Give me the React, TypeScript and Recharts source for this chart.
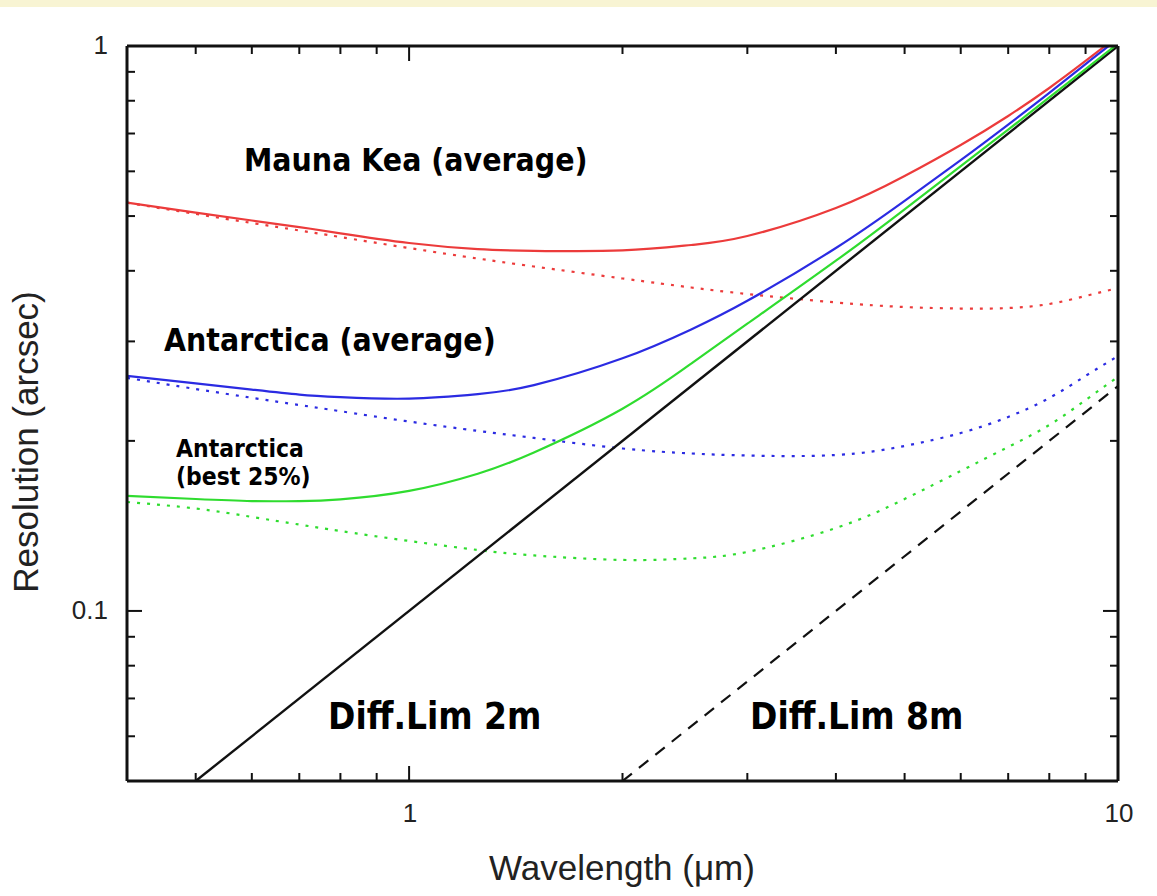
import React from 'react';
import { LineChart, Line, XAxis, YAxis } from 'recharts';

// Wavelength sample points (µm)
const wavelengths = [0.4, 0.5, 0.6, 0.7, 0.8, 1, 1.25, 1.5, 2, 2.5, 3, 4, 5, 6, 7, 8, 9, 10];

// Resolution (arcsec)
const maunaKeaTotal = [0.528, 0.507, 0.491, 0.478, 0.466, 0.448, 0.437, 0.434, 0.4346, 0.4444, 0.4609, 0.5166, 0.5886, 0.668, 0.7519, 0.8426, 0.9407, 1.0416];
const maunaKeaSeeing = [0.528, 0.5043, 0.4861, 0.4715, 0.459, 0.4389, 0.4205, 0.4071, 0.3877, 0.3737, 0.3639, 0.3516, 0.3451, 0.343, 0.3437, 0.3494, 0.361, 0.3729];
const antarcticaAvgTotal = [0.2606, 0.2528, 0.2465, 0.2415, 0.239, 0.2376, 0.242, 0.251, 0.28, 0.315, 0.354, 0.439, 0.532, 0.628, 0.726, 0.826, 0.929, 1.03];
const antarcticaAvgSeeing = [0.2585, 0.2471, 0.2384, 0.2315, 0.2257, 0.2164, 0.2083, 0.2024, 0.1939, 0.19, 0.1884, 0.1888, 0.1959, 0.2065, 0.2205, 0.2382, 0.2606, 0.2826];
const antarcticaBestTotal = [0.1598, 0.1578, 0.1565, 0.1565, 0.1576, 0.1631, 0.1749, 0.1908, 0.228, 0.274, 0.3225, 0.4168, 0.514, 0.613, 0.711, 0.811, 0.91, 1.01];
const antarcticaBestSeeing = [0.1559, 0.1518, 0.1467, 0.1422, 0.1385, 0.133, 0.1282, 0.1254, 0.1231, 0.1239, 0.1272, 0.1402, 0.1578, 0.1769, 0.1951, 0.2134, 0.2362, 0.2596];

// Diffraction limits (straight lines on log-log)
const diff2mX = [0.5, 10];
const diff2mY = [0.05, 1];
const diff8mX = [2, 10];
const diff8mY = [0.05, 0.25];

// Axis ticks
const xTicks = [0.5, 0.6, 0.7, 0.8, 0.9, 1, 2, 3, 4, 5, 6, 7, 8, 9, 10];
const xMajor = [1, 10];
const xLabels = [1, 10];
const yTicks = [0.06, 0.07, 0.08, 0.09, 0.1, 0.2, 0.3, 0.4, 0.5, 0.6, 0.7, 0.8, 0.9, 1];
const yMajor = [0.1, 1];
const yLabels = [0.1, 1];

const toSeries = (xs: number[], ys: number[]) => xs.map((x, i) => ({ x, y: ys[i] }));

const RED = '#ec3b3b';
const BLUE = '#2b2be2';
const GREEN = '#2fdc2f';
const AXIS = '#111';
const MAJOR_LEN = 15;
const MINOR_LEN = 8;
const TICK_FONT = '"Liberation Sans", Arial, sans-serif';

const BottomTick = (props: any) => {
  const { x, y, payload } = props;
  const v = payload.value;
  const len = xMajor.includes(v) ? MAJOR_LEN : MINOR_LEN;
  return (
    <g>
      <line x1={x} x2={x} y1={y} y2={y - len} stroke={AXIS} strokeWidth={2} />
      {xLabels.includes(v) && (
        <text x={x + 1} y={y + 41} textAnchor="middle" fontFamily={TICK_FONT} fontSize={26} fill="#222">
          {String(v)}
        </text>
      )}
    </g>
  );
};

const TopTick = (props: any) => {
  const { x, y, payload } = props;
  const len = xMajor.includes(payload.value) ? MAJOR_LEN : MINOR_LEN;
  return <line x1={x} x2={x} y1={y} y2={y + len} stroke={AXIS} strokeWidth={2} />;
};

const LeftTick = (props: any) => {
  const { x, y, payload } = props;
  const v = payload.value;
  const len = yMajor.includes(v) ? MAJOR_LEN : MINOR_LEN;
  return (
    <g>
      <line x1={x} x2={x + len} y1={y} y2={y} stroke={AXIS} strokeWidth={2} />
      {yLabels.includes(v) && (
        <text x={x - 19} y={y + 8} textAnchor="end" fontFamily={TICK_FONT} fontSize={26} fill="#222">
          {String(v)}
        </text>
      )}
    </g>
  );
};

const RightTick = (props: any) => {
  const { x, y, payload } = props;
  const len = yMajor.includes(payload.value) ? MAJOR_LEN : MINOR_LEN;
  return <line x1={x} x2={x - len} y1={y} y2={y} stroke={AXIS} strokeWidth={2} />;
};

const BOLD = '"DejaVu Sans", Verdana, sans-serif';

const Annot = ({ x, y, size, children }: { x: number; y: number; size: number; children: React.ReactNode }) => (
  <text
    transform={`translate(${x},${y}) scale(1,1.15)`}
    fontFamily={BOLD}
    fontWeight="bold"
    fontSize={size}
    fill="#000"
  >
    {children}
  </text>
);

export default function App() {
  const axisCommon = {
    type: 'number' as const,
    scale: 'log' as const,
    allowDataOverflow: true,
    tickSize: 0,
    tickMargin: 0,
    tickLine: false,
    interval: 0 as const,
    axisLine: { stroke: AXIS, strokeWidth: 3 },
  };
  const curve = 'natural' as const;
  return (
    <div style={{ position: 'absolute', left: 0, top: 0, width: 1157, height: 896, background: '#fff', overflow: 'hidden' }}>
      <div style={{ position: 'absolute', left: 0, top: 0, width: 1157, height: 7, background: '#f8f4d3' }} />
      <div style={{ position: 'absolute', left: 0, top: 0 }}>
        <LineChart width={1157} height={896} margin={{ top: 45, right: 38, bottom: 114, left: 126 }}>
          <XAxis {...axisCommon} dataKey="x" domain={[0.4, 10]} ticks={xTicks} height={1} tick={<BottomTick />} />
          <XAxis {...axisCommon} xAxisId="top" orientation="top" dataKey="x" domain={[0.4, 10]} ticks={xTicks} height={1} tick={<TopTick />} />
          <YAxis {...axisCommon} dataKey="y" domain={[0.05, 1]} ticks={yTicks} width={1} tick={<LeftTick />} />
          <YAxis {...axisCommon} yAxisId="right" orientation="right" domain={[0.05, 1]} ticks={yTicks} width={1} tick={<RightTick />} />

          <Line data={toSeries(wavelengths, maunaKeaSeeing)} dataKey="y" type={curve} stroke={RED} strokeWidth={2.2} strokeDasharray="3 7" dot={false} activeDot={false} isAnimationActive={false} />
          <Line data={toSeries(wavelengths, antarcticaAvgSeeing)} dataKey="y" type={curve} stroke={BLUE} strokeWidth={2.2} strokeDasharray="3 7" dot={false} activeDot={false} isAnimationActive={false} />
          <Line data={toSeries(wavelengths, antarcticaBestSeeing)} dataKey="y" type={curve} stroke={GREEN} strokeWidth={2.2} strokeDasharray="3 7" dot={false} activeDot={false} isAnimationActive={false} />
          <Line data={toSeries(diff8mX, diff8mY)} dataKey="y" type="linear" stroke="#111" strokeWidth={2.2} strokeDasharray="12 9" dot={false} activeDot={false} isAnimationActive={false} />
          <Line data={toSeries(diff2mX, diff2mY)} dataKey="y" type="linear" stroke="#111" strokeWidth={2.4} dot={false} activeDot={false} isAnimationActive={false} />
          <Line data={toSeries(wavelengths, maunaKeaTotal)} dataKey="y" type={curve} stroke={RED} strokeWidth={2.2} dot={false} activeDot={false} isAnimationActive={false} />
          <Line data={toSeries(wavelengths, antarcticaAvgTotal)} dataKey="y" type={curve} stroke={BLUE} strokeWidth={2.2} dot={false} activeDot={false} isAnimationActive={false} />
          <Line data={toSeries(wavelengths, antarcticaBestTotal)} dataKey="y" type={curve} stroke={GREEN} strokeWidth={2.2} dot={false} activeDot={false} isAnimationActive={false} />
        </LineChart>
      </div>
      <svg width={1157} height={896} style={{ position: 'absolute', left: 0, top: 0, pointerEvents: 'none' }}>
        <Annot x={244} y={171} size={28.5}>Mauna Kea (average)</Annot>
        <Annot x={164} y={351} size={28.5}>Antarctica (average)</Annot>
        <Annot x={176} y={457} size={22}>Antarctica</Annot>
        <Annot x={176} y={485} size={22}>(best 25%)</Annot>
        <Annot x={328} y={729} size={33}>Diff.Lim 2m</Annot>
        <Annot x={750} y={729} size={33}>Diff.Lim 8m</Annot>
        <text x={622} y={880} textAnchor="middle" fontFamily={TICK_FONT} fontSize={35} fill="#222">
          Wavelength (μm)
        </text>
        <text transform="translate(38,442) rotate(-90)" textAnchor="middle" fontFamily={TICK_FONT} fontSize={35} fill="#222">
          Resolution (arcsec)
        </text>
      </svg>
    </div>
  );
}
